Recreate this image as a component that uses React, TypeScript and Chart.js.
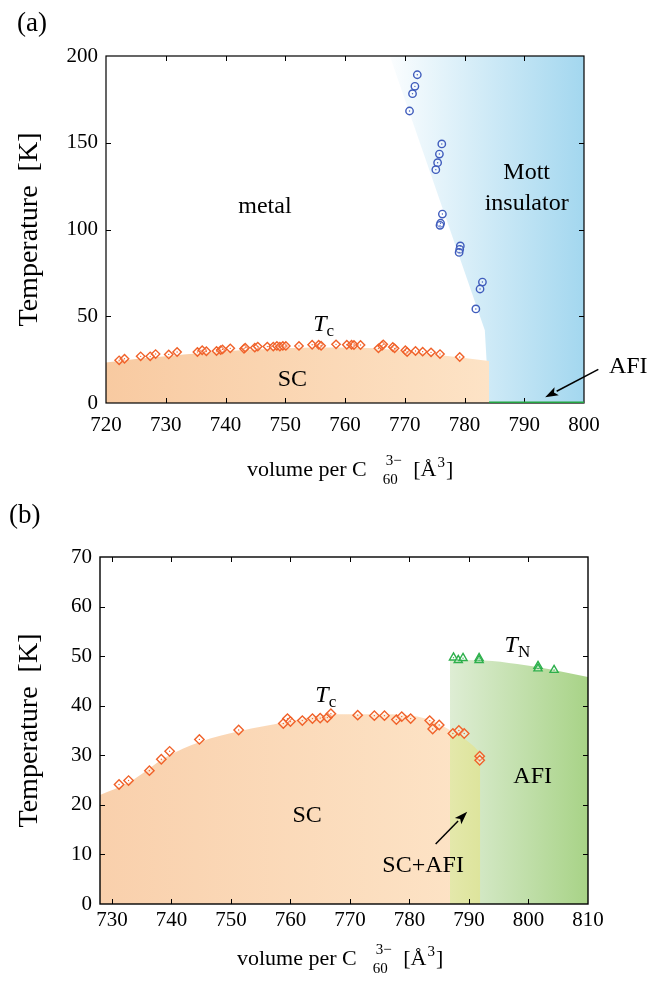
import React, { useEffect, useRef } from "react";
import { Chart, registerables } from "chart.js";
Chart.register(...registerables);

const FONT = "'Liberation Serif', 'Times New Roman', serif";

// ---------- Panel (a) data ----------
const aXTicks = [720, 730, 740, 750, 760, 770, 780, 790, 800];
const aYTicks = [0, 50, 100, 150, 200];
const aMitVol = [772.1, 771.7, 771.3, 770.8, 776.2, 775.8, 775.5, 775.2, 776.3, 776.0, 775.9, 779.3, 779.2, 779.1, 783.0, 782.6, 781.9];
const aMitT = [189.2, 182.5, 178.3, 168.3, 149.3, 143.5, 138.5, 134.5, 108.9, 103.6, 102.4, 90.5, 88.6, 86.8, 69.7, 65.7, 54.2];
const aTcVol = [722.2, 723.1, 725.8, 727.4, 728.3, 730.5, 731.9, 735.3, 736.1, 736.8, 738.5, 739.2, 739.5, 740.8, 743.1, 743.3, 744.9, 745.4, 747.0, 748.0, 748.6, 749.1, 749.6, 750.1, 752.3, 754.5, 755.6, 756.0, 758.5, 760.3, 761.1, 761.5, 762.6, 765.6, 766.2, 766.4, 768.0, 768.3, 770.1, 770.4, 771.8, 773.0, 774.4, 775.9, 779.2];
const aTcT = [24.6, 25.5, 26.9, 26.9, 28.2, 28.0, 29.4, 29.4, 30.4, 29.8, 30.0, 30.5, 30.9, 31.5, 31.3, 31.9, 31.9, 32.5, 32.5, 32.5, 32.9, 32.5, 32.9, 32.9, 32.9, 33.6, 33.6, 33.0, 33.8, 33.6, 33.6, 33.4, 33.4, 31.5, 33.0, 33.8, 32.3, 31.5, 30.4, 29.4, 30.0, 29.6, 29.2, 28.2, 26.5];
const aScBoundVol = [720, 725, 730, 735, 740, 745, 750, 755, 760, 765, 770, 775, 780, 784.1];
const aScBoundT = [23.3, 25.4, 27.0, 28.5, 29.8, 30.8, 31.6, 32.0, 32.0, 31.5, 30.0, 28.0, 26.0, 24.2];
const aMottBoundVol = [767.5, 783.4, 784.1, 800];
const aMottBoundT = [200, 42, 0, 0];
const aAfiVol = [784.1, 800];
const aAfiT = [0, 0];

// ---------- Panel (b) data ----------
const bXTicks = [730, 740, 750, 760, 770, 780, 790, 800, 810];
const bYTicks = [0, 10, 20, 30, 40, 50, 60, 70];
const bTcVol = [731.2, 732.8, 736.3, 738.3, 739.7, 744.7, 751.3, 758.8, 759.5, 760.0, 762.0, 763.7, 765.0, 766.2, 766.8, 771.3, 774.1, 775.8, 777.8, 778.7, 780.2, 783.4, 783.9, 785.0, 787.3, 788.3, 789.2, 791.8, 791.8];
const bTcT = [24.1, 24.9, 26.9, 29.2, 30.8, 33.2, 35.1, 36.4, 37.4, 36.8, 37.0, 37.4, 37.5, 37.6, 38.4, 38.1, 38.0, 38.0, 37.2, 37.8, 37.4, 37.0, 35.3, 36.1, 34.4, 35.0, 34.4, 29.8, 29.0];
const bTnVol = [787.4, 788.2, 789.0, 791.7, 791.7, 801.6, 801.6, 804.3];
const bTnT = [49.7, 49.2, 49.6, 49.6, 49.2, 48.0, 47.5, 47.2];
const bScBoundVol = [728, 732.8, 739.2, 744.8, 751.6, 758.9, 767.3, 775.7, 781.3, 784.1, 786.8, 789.2, 790.9, 791.9];
const bScBoundT = [22.0, 24.5, 29.7, 32.7, 34.9, 36.6, 38.3, 38.3, 37.8, 36.8, 35.1, 33.4, 31.7, 30.4];
const bAfiBoundVol = [786.8, 792.5, 798.1, 803.8, 810];
const bAfiBoundT = [49.2, 49.1, 48.4, 47.3, 45.8];

const zip = (xs: number[], ys: number[]) => xs.map((x, i) => ({ x, y: ys[i] }));

const hGrad = (v0: number, v1: number, c0: string, c1: string) => (ctx: any) => {
  const chart = ctx.chart;
  if (!chart.chartArea) return c0;
  const xs = chart.scales.x;
  const g = chart.ctx.createLinearGradient(xs.getPixelForValue(v0), 0, xs.getPixelForValue(v1), 0);
  g.addColorStop(0, c0);
  g.addColorStop(1, c1);
  return g;
};

type Lbl = { text: string; vol: number; T: number; size: number; italic?: boolean; sub?: string };
type Arrow = { v0: number; t0: number; v1: number; t1: number };

type Panel = {
  width: number;
  height: number;
  xMin: number;
  xMax: number;
  yMax: number;
  xTicks: number[];
  yTicks: number[];
  padTop: number;
  padRight: number;
  yWidth: number;
  xHeight: number;
  xTickPad: number;
  datasets: any[];
  labels: Lbl[];
  arrows: Arrow[];
  panelLabel: { text: string; x: number; y: number };
  xTitle: { left: number; baseline: number };
  yTitle: { x: number };
  frameWidth: number;
};

function drawFrame(chart: any, lw: number) {
  const { ctx, chartArea } = chart;
  const { left, right, top, bottom } = chartArea;
  ctx.save();
  ctx.strokeStyle = "#000";
  ctx.lineWidth = lw;
  ctx.strokeRect(left, top, right - left, bottom - top);
  ctx.lineWidth = 1;
  const tl = 5;
  ctx.beginPath();
  chart.scales.x.ticks.forEach((t: any) => {
    const px = Math.round(chart.scales.x.getPixelForValue(t.value)) + 0.5;
    if (px <= left + 1 || px >= right - 1) return;
    ctx.moveTo(px, bottom);
    ctx.lineTo(px, bottom - tl);
    ctx.moveTo(px, top);
    ctx.lineTo(px, top + tl);
  });
  chart.scales.y.ticks.forEach((t: any) => {
    const py = Math.round(chart.scales.y.getPixelForValue(t.value)) + 0.5;
    if (py <= top + 1 || py >= bottom - 1) return;
    ctx.moveTo(left, py);
    ctx.lineTo(left + tl, py);
    ctx.moveTo(right, py);
    ctx.lineTo(right - tl, py);
  });
  ctx.stroke();
  ctx.restore();
}

function drawArrow(ctx: CanvasRenderingContext2D, x0: number, y0: number, x1: number, y1: number) {
  const ang = Math.atan2(y1 - y0, x1 - x0);
  const hl = 13, hw = 4.5;
  const bx = x1 - hl * Math.cos(ang), by = y1 - hl * Math.sin(ang);
  ctx.save();
  ctx.strokeStyle = "#000";
  ctx.fillStyle = "#000";
  ctx.lineWidth = 1.5;
  ctx.beginPath();
  ctx.moveTo(x0, y0);
  ctx.lineTo(bx, by);
  ctx.stroke();
  ctx.beginPath();
  ctx.moveTo(x1, y1);
  ctx.lineTo(bx + hw * Math.sin(ang), by - hw * Math.cos(ang));
  ctx.lineTo(bx + 3 * Math.cos(ang), by + 3 * Math.sin(ang));
  ctx.lineTo(bx - hw * Math.sin(ang), by + hw * Math.cos(ang));
  ctx.closePath();
  ctx.fill();
  ctx.restore();
}

function drawXTitle(ctx: CanvasRenderingContext2D, left: number, base: number) {
  const main = `22px ${FONT}`;
  const small = `15px ${FONT}`;
  ctx.save();
  ctx.fillStyle = "#000";
  ctx.textBaseline = "alphabetic";
  ctx.textAlign = "left";
  ctx.font = main;
  const p1 = "volume per C";
  const w1 = ctx.measureText(p1).width;
  const gap = 16;
  ctx.font = small;
  const wsub = ctx.measureText("60").width;
  const wsup = ctx.measureText("3\u2212").width;
  const ws = Math.max(wsub, wsup + 3);
  ctx.font = main;
  const p2 = " [\u00C5";
  const w2 = ctx.measureText(p2).width;
  ctx.font = small;
  const w3 = ctx.measureText("3").width;
  let x = left;
  ctx.font = main;
  ctx.fillText(p1, x, base);
  x += w1 + gap;
  ctx.font = small;
  ctx.fillText("60", x, base + 8);
  ctx.fillText("3\u2212", x + 3, base - 11);
  x += ws + 6;
  ctx.font = main;
  ctx.fillText(p2, x, base);
  x += w2 + 1;
  ctx.font = small;
  ctx.fillText("3", x, base - 9);
  x += w3 + 1;
  ctx.font = main;
  ctx.fillText("]", x, base);
  ctx.restore();
}

function makeTextPlugin(p: Panel) {
  return {
    id: "texts",
    beforeDraw(chart: any) {
      chart.$frameDone = false;
    },
    beforeDatasetDraw(chart: any, args: any) {
      const ds = chart.data.datasets[args.index];
      if (ds.frameBefore && !chart.$frameDone) {
        drawFrame(chart, p.frameWidth);
        chart.$frameDone = true;
      }
    },
    afterDatasetsDraw(chart: any) {
      if (!chart.$frameDone) {
        drawFrame(chart, p.frameWidth);
        chart.$frameDone = true;
      }
    },
    afterDraw(chart: any) {
      const { ctx, chartArea } = chart;
      const xs = chart.scales.x, ys = chart.scales.y;
      ctx.save();
      ctx.fillStyle = "#000";
      ctx.font = `27px ${FONT}`;
      ctx.textAlign = "left";
      ctx.textBaseline = "alphabetic";
      ctx.fillText(p.panelLabel.text, p.panelLabel.x, p.panelLabel.y);
      p.labels.forEach((l) => {
        const x = xs.getPixelForValue(l.vol);
        const y = ys.getPixelForValue(l.T);
        ctx.font = `${l.italic ? "italic " : ""}${l.size}px ${FONT}`;
        ctx.textAlign = "center";
        ctx.textBaseline = "middle";
        ctx.fillText(l.text, x, y);
        if (l.sub) {
          const w = ctx.measureText(l.text).width;
          ctx.font = `${Math.round(l.size * 0.7)}px ${FONT}`;
          ctx.textAlign = "left";
          ctx.fillText(l.sub, x + w / 2, y + 7);
        }
      });
      p.arrows.forEach((a) =>
        drawArrow(ctx, xs.getPixelForValue(a.v0), ys.getPixelForValue(a.t0), xs.getPixelForValue(a.v1), ys.getPixelForValue(a.t1))
      );
      ctx.save();
      ctx.translate(p.yTitle.x, (chartArea.top + chartArea.bottom) / 2);
      ctx.rotate(-Math.PI / 2);
      ctx.font = `28px ${FONT}`;
      ctx.textAlign = "center";
      ctx.textBaseline = "middle";
      ctx.fillText("Temperature  [K]", 0, 0);
      ctx.restore();
      drawXTitle(ctx, p.xTitle.left, p.xTitle.baseline);
      ctx.restore();
    },
  };
}

function buildChart(canvas: HTMLCanvasElement, p: Panel) {
  const tickFont = { family: FONT, size: 21 };
  return new Chart(canvas, {
    type: "line",
    data: { datasets: p.datasets },
    options: {
      animation: false,
      responsive: false,
      devicePixelRatio: 1,
      layout: { padding: { left: 0, right: p.padRight, top: p.padTop, bottom: 0 } },
      plugins: { legend: { display: false }, tooltip: { enabled: false } },
      scales: {
        x: {
          type: "linear",
          min: p.xMin,
          max: p.xMax,
          afterBuildTicks: (s: any) => {
            s.ticks = p.xTicks.map((value) => ({ value }));
          },
          afterFit: (s: any) => {
            s.height = p.xHeight;
          },
          ticks: { font: tickFont, color: "#000", padding: p.xTickPad, maxRotation: 0, autoSkip: false, callback: (v: any) => String(v) },
          grid: { display: false, drawTicks: false },
          border: { display: false },
        },
        y: {
          type: "linear",
          min: 0,
          max: p.yMax,
          afterBuildTicks: (s: any) => {
            s.ticks = p.yTicks.map((value) => ({ value }));
          },
          afterFit: (s: any) => {
            s.width = p.yWidth;
          },
          ticks: { font: tickFont, color: "#000", padding: 8, autoSkip: false, callback: (v: any) => String(v) },
          grid: { display: false, drawTicks: false },
          border: { display: false },
        },
      },
    } as any,
    plugins: [makeTextPlugin(p) as any],
  });
}

const fillDs = (data: any[], fill: any, bg: any, order: number, smooth: boolean) => ({
  data,
  fill,
  backgroundColor: bg,
  borderWidth: 0,
  borderColor: "rgba(0,0,0,0)",
  pointRadius: 0,
  tension: smooth ? 0.4 : 0,
  cubicInterpolationMode: smooth ? "monotone" : "default",
  order,
});

const markerDs = (data: any[], style: string, r: number, color: string, order: number) => ({
  data,
  showLine: false,
  pointStyle: style,
  pointRadius: r,
  pointBorderWidth: 1.4,
  pointBorderColor: color,
  pointBackgroundColor: "rgba(255,255,255,0.35)",
  borderColor: color,
  order,
});

const dotDs = (data: any[], color: string) => ({
  data,
  showLine: false,
  pointStyle: "circle",
  pointRadius: 0.7,
  pointBorderWidth: 0,
  pointBackgroundColor: color,
  order: 0,
});

const ORANGE = "#f0622a";
const BLUE = "#3f5cbc";
const GREEN = "#2eb04c";

const panelA: Panel = {
  width: 662,
  height: 490,
  xMin: 720,
  xMax: 800,
  yMax: 200,
  xTicks: aXTicks,
  yTicks: aYTicks,
  padTop: 56,
  padRight: 78,
  yWidth: 106,
  xHeight: 87,
  xTickPad: 10,
  frameWidth: 1.2,
  datasets: [
    fillDs(zip(aMottBoundVol, aMottBoundT), "end", hGrad(766, 800, "rgba(255,255,255,1)", "#a3d7ef"), 10, false),
    fillDs(zip(aScBoundVol, aScBoundT), "origin", hGrad(720, 784, "#f8caa1", "#fde3c6"), 9, true),
    { data: zip(aAfiVol, aAfiT), borderColor: "#23a441", borderWidth: 3, pointRadius: 0, fill: false, order: 5, frameBefore: true },
    markerDs(zip(aTcVol, aTcT), "rectRot", 4.2, ORANGE, 2),
    markerDs(zip(aMitVol, aMitT), "circle", 3.7, BLUE, 2),
    dotDs(zip(aTcVol, aTcT), ORANGE),
    dotDs(zip(aMitVol, aMitT), BLUE),
  ],
  labels: [
    { text: "metal", vol: 746.6, T: 113, size: 24 },
    { text: "Mott", vol: 790.4, T: 132.7, size: 24 },
    { text: "insulator", vol: 790.4, T: 114.7, size: 24 },
    { text: "SC", vol: 751.2, T: 13.3, size: 24 },
    { text: "T", vol: 755.8, T: 45, size: 24, italic: true, sub: "c" },
    { text: "AFI", vol: 807.4, T: 20.9, size: 24 },
  ],
  arrows: [{ v0: 802.4, t0: 19.4, v1: 793.5, t1: 3.3 }],
  panelLabel: { text: "(a)", x: 17, y: 31 },
  xTitle: { left: 247, baseline: 476 },
  yTitle: { x: 30 },
};

const bOverlapVol = bScBoundVol.filter((v) => v >= bAfiBoundVol[0]);
const bOverlapT = bScBoundT.filter((_, i) => bScBoundVol[i] >= bAfiBoundVol[0]);

const panelB: Panel = {
  width: 662,
  height: 491,
  xMin: 728,
  xMax: 810,
  yMax: 70,
  xTicks: bXTicks,
  yTicks: bYTicks,
  padTop: 67,
  padRight: 74,
  yWidth: 100,
  xHeight: 77,
  xTickPad: 4,
  frameWidth: 1.4,
  datasets: [
    fillDs(zip(bScBoundVol, bScBoundT), "origin", hGrad(728, 792, "#f9d0ac", "#fde4c7"), 10, true),
    fillDs(zip(bAfiBoundVol, bAfiBoundT), "origin", hGrad(786.8, 810, "#deedd4", "#a8d387"), 9, true),
    fillDs(zip(bOverlapVol, bOverlapT), "origin", hGrad(786.8, 792, "#e4e8ab", "#dde49c"), 8, true),
    markerDs(zip(bTcVol, bTcT), "rectRot", 4.7, ORANGE, 2),
    markerDs(zip(bTnVol, bTnT), "triangle", 4.7, GREEN, 2),
    dotDs(zip(bTcVol, bTcT), ORANGE),
    dotDs(zip(bTnVol, bTnT), GREEN),
  ],
  labels: [
    { text: "SC", vol: 762.8, T: 17.9, size: 24 },
    { text: "AFI", vol: 800.7, T: 25.6, size: 24 },
    { text: "SC+AFI", vol: 782.3, T: 7.7, size: 24 },
    { text: "T", vol: 765.3, T: 42.1, size: 24, italic: true, sub: "c" },
    { text: "T", vol: 797.1, T: 52.2, size: 24, italic: true, sub: "N" },
  ],
  arrows: [{ v0: 784.4, t0: 12.1, v1: 789.7, t1: 18.6 }],
  panelLabel: { text: "(b)", x: 9, y: 33 },
  xTitle: { left: 237, baseline: 475 },
  yTitle: { x: 30 },
};

function PanelChart({ p }: { p: Panel }) {
  const ref = useRef<HTMLCanvasElement | null>(null);
  useEffect(() => {
    if (!ref.current) return;
    const c = buildChart(ref.current, p);
    return () => c.destroy();
  }, [p]);
  return <canvas ref={ref} width={p.width} height={p.height} style={{ display: "block", width: p.width, height: p.height }} />;
}

export default function App() {
  return (
    <div style={{ position: "absolute", left: 0, top: 0, width: 662, height: 981, background: "#fff" }}>
      <PanelChart p={panelA} />
      <PanelChart p={panelB} />
    </div>
  );
}
